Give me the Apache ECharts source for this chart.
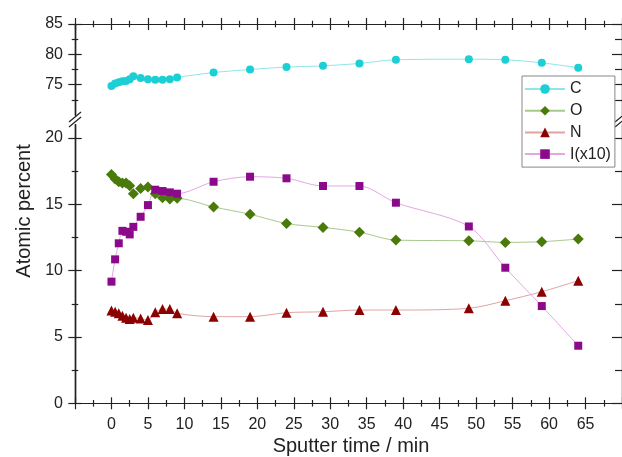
<!DOCTYPE html>
<html><head><meta charset="utf-8">
<script src="https://cdn.jsdelivr.net/npm/echarts@6/dist/echarts.min.js"></script>
<style>html,body{margin:0;padding:0;background:#fff}#c{width:622px;height:457px}</style>
</head><body><div id="c"></div>
<script>
// ---- data ----
const times = [0,0.5,1,1.5,2,2.5,3,4,5,6,7,8,9,14,19,24,29,34,39,49,54,59,64];
const valC = [74.8,75.2,75.4,75.55,75.6,75.9,76.4,76.1,75.9,75.8,75.8,75.9,76.2,77.0,77.5,77.9,78.1,78.5,79.1,79.2,79.1,78.6,77.8];
const valO = [17.25,16.9,16.7,16.6,16.6,16.4,15.8,16.2,16.3,15.8,15.5,15.4,15.45,14.8,14.25,13.55,13.26,12.9,12.3,12.25,12.13,12.18,12.38];
const valN = [7.0,6.9,6.78,6.6,6.45,6.35,6.45,6.4,6.28,6.86,7.1,7.1,6.78,6.53,6.53,6.83,6.9,7.03,7.03,7.16,7.73,8.41,9.24];
const valI = [9.17,10.85,12.06,13.0,12.93,12.73,13.3,14.06,14.94,16.1,16.0,15.9,15.8,16.7,17.08,16.96,16.38,16.38,15.12,13.33,10.22,7.33,4.34];
const seriesNames = ['C','O','N','I(x10)'];
const xLabels = [0,5,10,15,20,25,30,35,40,45,50,55,60,65];
const lowerTicks = [0,5,10,15,20];
const lowerMinor = [2.5,7.5,12.5,17.5];
const upperTicks = [75,80,85];
const upperMinor = [72.5,77.5,82.5];
const xTitle = 'Sputter time / min';
const yTitle = 'Atomic percent';

const FONT = "'Liberation Sans', Arial, sans-serif";
const AX = '#222';
const chart = echarts.init(document.getElementById('c'), null, {renderer:'canvas'});

function yAx(grid, min, max, position, ticks, inside, len, labels) {
  return {
    type:'value', gridIndex:grid, min:min, max:max, position:position,
    axisLine:{show:true, onZero:false, lineStyle:{color:AX, width:1.2}},
    axisTick:{show:true, inside:inside, length:len, customValues:ticks, lineStyle:{color:AX, width:1.2}},
    axisLabel:{show:!!labels, customValues:labels || ticks, margin:12, fontSize:16, color:'#222', fontFamily:FONT},
    splitLine:{show:false}, minorTick:{show:false}
  };
}
function xAx(grid, position, inside, labels) {
  return {
    type:'value', gridIndex:grid, min:-5, max:70, interval:5, position:position,
    axisLine:{show:true, onZero:false, lineStyle:{color:AX, width:1.2}},
    axisTick:{show:true, inside:inside, length:6, lineStyle:{color:AX, width:1.2}},
    minorTick:{show:true, splitNumber:2, length:3.3, lineStyle:{color:AX, width:1.2}},
    axisLabel:{show:!!labels, customValues:labels || xLabels, margin:13, fontSize:16, color:'#222', fontFamily:FONT},
    splitLine:{show:false}
  };
}

const zip = v => times.map((t,i)=>[t, v[i]]);

function ser(name, data, xi, yi, symbol, size, color, lineColor) {
  return {
    name:name, type:'line', data:data, xAxisIndex:xi, yAxisIndex:yi,
    symbol:symbol, symbolSize:size, smooth:0.3, showSymbol:true,
    itemStyle:{color:color}, lineStyle:{color:lineColor, width:1},
    emphasis:{disabled:true}, animation:false, z:3
  };
}

const option = {
  animation:false,
  backgroundColor:'#fff',
  grid:[
    {left:75, top:124.7, width:552.5, height:278.6},
    {left:75, top:24, width:552.5, height:91}
  ],
  xAxis:[
    xAx(0,'bottom',false,xLabels),
    xAx(0,'bottom',true,null),
    xAx(1,'top',false,null),
    xAx(1,'top',true,null)
  ],
  yAxis:[
    yAx(0,0,21,'left',lowerTicks,false,6.7,lowerTicks),
    yAx(0,0,21,'left',lowerTicks,true,6.7,null),
    yAx(0,0,21,'left',lowerMinor,false,3.3,null),
    yAx(0,0,21,'left',lowerMinor,true,3.3,null),
    yAx(0,0,21,'right',lowerTicks,true,10,null),
    yAx(0,0,21,'right',lowerMinor,true,7,null),
    yAx(1,70,85,'left',upperTicks,false,6.7,upperTicks),
    yAx(1,70,85,'left',upperTicks,true,6.7,null),
    yAx(1,70,85,'left',upperMinor,false,3.3,null),
    yAx(1,70,85,'left',upperMinor,true,3.3,null),
    yAx(1,70,85,'right',upperTicks,true,10,null),
    yAx(1,70,85,'right',upperMinor,true,7,null)
  ],
  legend:{
    orient:'vertical', left:522, top:76,
    data:seriesNames,
    itemWidth:40, itemHeight:12, itemGap:5.7,
    padding:[5,4,5,2],
    borderColor:'#888', borderWidth:1, backgroundColor:'#fff',
    textStyle:{fontSize:16, color:'#222', fontFamily:FONT, lineHeight:16},
    selectedMode:false
  },
  series:[
    ser('C', zip(valC), 2, 6, 'circle', 8, '#1ccfd4', '#8fe6e8'),
    ser('O', zip(valO), 0, 0, 'diamond', 11, '#4a7a0a', '#a9c98c'),
    ser('N', zip(valN), 0, 0, 'triangle', 10, '#8b0000', '#e0a3a3'),
    ser('I(x10)', zip(valI), 0, 0, 'rect', 8, '#8b0a8b', '#e3a8e3')
  ],
  graphic:[
    {type:'text', x:24, y:211, rotation:Math.PI/2,
     style:{text:yTitle, fontSize:20, fontFamily:FONT, fill:'#222', align:'center', verticalAlign:'middle'}},
    {type:'text', x:351, y:446,
     style:{text:xTitle, fontSize:20, fontFamily:FONT, fill:'#222', align:'center', verticalAlign:'middle'}},
    {type:'line', shape:{x1:69, y1:122, x2:81, y2:112}, style:{stroke:AX, lineWidth:1.2}},
    {type:'line', shape:{x1:69, y1:127, x2:81, y2:117}, style:{stroke:AX, lineWidth:1.2}},
    {type:'line', shape:{x1:615, y1:122, x2:627, y2:112}, style:{stroke:AX, lineWidth:1.2}},
    {type:'line', shape:{x1:615, y1:127, x2:627, y2:117}, style:{stroke:AX, lineWidth:1.2}}
  ]
};
chart.setOption(option);
</script>
</body></html>
